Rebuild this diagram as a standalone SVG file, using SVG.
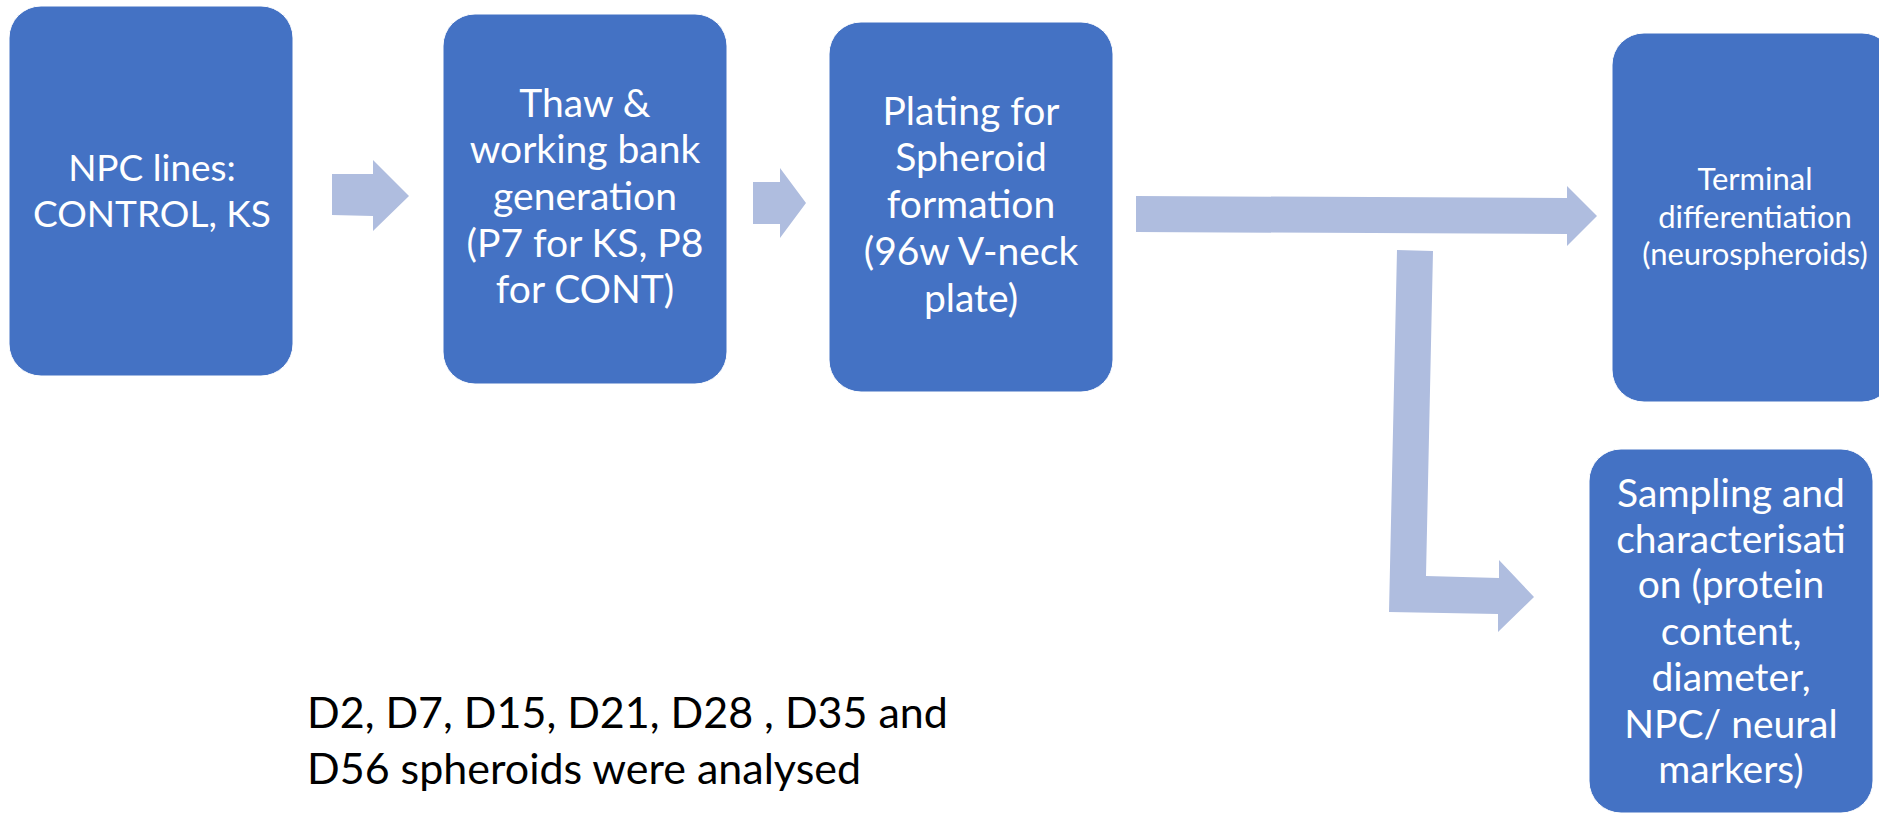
<svg xmlns="http://www.w3.org/2000/svg" width="1879" height="814" viewBox="0 0 1879 814">
  <style>
    .box { fill: #4472C4; stroke: #ffffff; stroke-width: 1; }
    .lbl { font-family: Lato, "Liberation Sans", sans-serif; fill: #ffffff; text-anchor: middle; }
    .arrow { fill: #AFBDDF; }
    .note { font-family: Lato, "Liberation Sans", sans-serif; fill: #000000; font-size: 43px; }
  </style>
  <rect width="1879" height="814" fill="#ffffff"/>
  <g id="connectors">
    <polygon class="arrow" points="332,174 373,174 373,160 409,196 373,231 373,216 332,215"/>
    <polygon class="arrow" points="753,182 780,182 780,168 806,203 780,238 780,224 753,224"/>
    <polygon class="arrow" points="1136,196 1567,198 1567,186 1597,216 1567,246 1567,234 1136,232"/>
    <polygon class="arrow" points="1397,250 1433,251 1426,576 1499,578 1499,560 1534,597 1498,632 1498,614 1389,612"/>
  </g>
  <g id="node-npc">
    <rect class="box" x="9" y="6" width="284" height="370" rx="32" ry="32"/>
    <text class="lbl" font-size="37"><tspan x="152" y="181">NPC lines:</tspan><tspan x="152" y="227">CONTROL, KS</tspan></text>
  </g>
  <g id="node-thaw">
    <rect class="box" x="443" y="14" width="284" height="370" rx="32" ry="32"/>
    <text class="lbl" font-size="39"><tspan x="585" y="117">Thaw &amp;</tspan><tspan x="585" y="163">working bank</tspan><tspan x="585" y="210">generation</tspan><tspan x="585" y="257">(P7 for KS, P8</tspan><tspan x="585" y="303">for CONT)</tspan></text>
  </g>
  <g id="node-plating">
    <rect class="box" x="829" y="22" width="284" height="370" rx="32" ry="32"/>
    <text class="lbl" font-size="39"><tspan x="971" y="125">Plating for</tspan><tspan x="971" y="171">Spheroid</tspan><tspan x="971" y="218">formation</tspan><tspan x="971" y="265">(96w V-neck</tspan><tspan x="971" y="312">plate)</tspan></text>
  </g>
  <g id="node-terminal">
    <rect class="box" x="1612" y="33" width="282" height="369" rx="32" ry="32"/>
    <text class="lbl" font-size="31"><tspan x="1755" y="190">Terminal</tspan><tspan x="1755" y="228">differentiation</tspan><tspan x="1755" y="265">(neurospheroids)</tspan></text>
  </g>
  <g id="node-sampling">
    <rect class="box" x="1589" y="449" width="284" height="364" rx="32" ry="32"/>
    <text class="lbl" font-size="39"><tspan x="1731" y="507">Sampling and</tspan><tspan x="1731" y="553">characterisati</tspan><tspan x="1731" y="598">on (protein</tspan><tspan x="1731" y="645">content,</tspan><tspan x="1731" y="691">diameter,</tspan><tspan x="1731" y="738">NPC/ neural</tspan><tspan x="1731" y="783">markers)</tspan></text>
  </g>
  <g id="note">
    <text class="note"><tspan x="307" y="728">D2, D7, D15, D21, D28 , D35 and</tspan><tspan x="307" y="784">D56 spheroids were analysed</tspan></text>
  </g>
</svg>
